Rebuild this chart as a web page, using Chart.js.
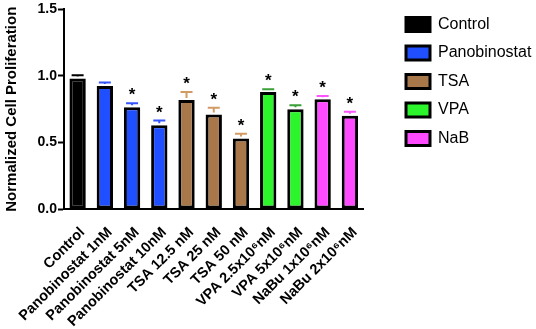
<!DOCTYPE html>
<html lang="en">
<head>
    <meta charset="UTF-8">
    <script src="https://cdn.jsdelivr.net/npm/chart.js"></script>
    <title>Cell Proliferation</title>
    <style>
        body { margin: 0; background: #fff; }
        .grafico { width: 536px; height: 329px; }
    </style>
</head>
<body>
<div class="grafico"><canvas id="myChart"></canvas></div>

<script>
    // data
    const categorias = ['Control', 'Panobinostat 1nM', 'Panobinostat 5nM', 'Panobinostat 10nM',
        'TSA 12.5 nM', 'TSA 25 nM', 'TSA 50 nM', 'VPA 2.5x10⁶nM', 'VPA 5x10⁶nM',
        'NaBu 1x10⁶nM', 'NaBu 2x10⁶nM'];
    const valores = [0.98, 0.925, 0.765, 0.63, 0.82, 0.71, 0.53, 0.88, 0.75, 0.825, 0.70];
    const erros = [0.025, 0.025, 0.03, 0.035, 0.06, 0.05, 0.035, 0.02, 0.03, 0.025, 0.03];
    const significativo = [false, false, true, true, true, true, true, true, true, true, true];
    const grupoDeCada = [0, 1, 1, 1, 2, 2, 2, 3, 3, 4, 4];

    const grupos = ['Control', 'Panobinostat', 'TSA', 'VPA', 'NaB'];
    const coresGrupo = ['#000000', '#1f4fff', '#a8784a', '#2cf52c', '#ff4bff'];
    const coresErro = ['#000000', '#3355ff', '#d39a63', '#3aa03a', '#ff55ff'];

    const fonte = 'Arial, "Liberation Sans", sans-serif';

    // error bars and asterisks, placed through the scales
    const barrasErro = {
        id: 'barrasErro',
        afterDatasetsDraw(chart) {
            const ctx = chart.ctx;
            const x = chart.scales.x;
            const y = chart.scales.y;
            ctx.save();
            for (let i = 0; i < valores.length; i++) {
                const px = x.getPixelForValue(i);
                const topo = y.getPixelForValue(valores[i]);
                const cap = y.getPixelForValue(valores[i] + erros[i]);
                ctx.strokeStyle = coresErro[grupoDeCada[i]];
                ctx.lineWidth = 2;
                ctx.beginPath();
                ctx.moveTo(px, topo - 2);
                ctx.lineTo(px, cap);
                ctx.moveTo(px - 6, cap);
                ctx.lineTo(px + 6, cap);
                ctx.stroke();
                if (significativo[i]) {
                    ctx.fillStyle = '#000';
                    ctx.font = 'bold 17px ' + fonte;
                    ctx.textAlign = 'center';
                    ctx.textBaseline = 'alphabetic';
                    ctx.fillText('*', px, cap - 3);
                }
            }
            ctx.restore();
        }
    };

    const config = {
        type: 'bar',
        data: {
            labels: categorias,
            datasets: [{
                label: 'Normalized Cell Proliferation',
                data: valores,
                backgroundColor: grupoDeCada.map(g => coresGrupo[g]),
                borderColor: '#000',
                borderWidth: 3,
                borderSkipped: false,
                barPercentage: 0.6,
                categoryPercentage: 1.0
            }]
        },
        options: {
            responsive: true,
            maintainAspectRatio: false,
            animation: false,
            layout: { padding: { top: 4, left: 0, right: 0, bottom: 0 } },
            plugins: {
                tooltip: { enabled: false },
                legend: {
                    position: 'right',
                    align: 'start',
                    maxWidth: 142.5,
                    labels: {
                        boxWidth: 24,
                        boxHeight: 14,
                        padding: 12.5,
                        color: '#000',
                        font: { family: fonte, size: 16 },
                        generateLabels: () => grupos.map((g, i) => ({
                            text: g,
                            fillStyle: coresGrupo[i],
                            strokeStyle: '#000',
                            lineWidth: 3,
                            hidden: false,
                            datasetIndex: 0
                        }))
                    }
                }
            },
            scales: {
                x: {
                    grid: { display: false, drawOnChartArea: false, tickLength: 8, tickWidth: 2, color: '#000' },
                    border: { display: true, color: '#000', width: 2 },
                    ticks: {
                        autoSkip: false,
                        minRotation: 45,
                        maxRotation: 45,
                        padding: 7,
                        labelOffset: 5,
                        color: '#000',
                        font: { family: fonte, size: 14.5, weight: 'bold' }
                    },
                    afterFit(s) { s.height = 120; }
                },
                y: {
                    min: 0,
                    max: 1.5,
                    ticks: {
                        stepSize: 0.5,
                        padding: 1,
                        color: '#000',
                        font: { family: fonte, size: 14, weight: 'bold' },
                        callback: v => v.toFixed(1)
                    },
                    grid: { drawOnChartArea: false, tickLength: 6, tickWidth: 2, color: '#000' },
                    border: { display: true, color: '#000', width: 2 },
                    title: {
                        display: true,
                        text: 'Normalized Cell Proliferation',
                        color: '#000',
                        padding: { top: 3, bottom: 2 },
                        font: { family: fonte, size: 15, weight: 'bold' }
                    },
                    afterFit(s) { s.width = 64; }
                },
                vazio: {
                    position: 'right',
                    display: true,
                    grid: { display: false },
                    border: { display: false },
                    ticks: { display: false },
                    afterFit(s) { s.width = 30; }
                }
            }
        },
        plugins: [barrasErro]
    };

    let myChart = new Chart(document.getElementById('myChart'), config);
</script>
</body>
</html>
